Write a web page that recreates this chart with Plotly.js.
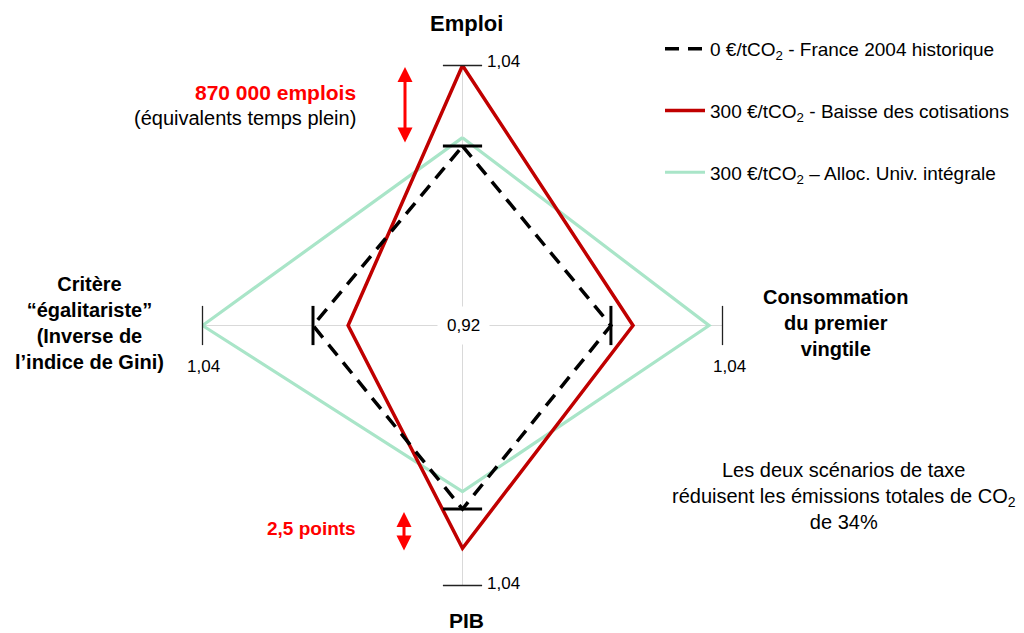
<!DOCTYPE html>
<html>
<head>
<meta charset="utf-8">
<script src="https://cdn.plot.ly/plotly-3.0.1.min.js"></script>
<style>html,body{margin:0;padding:0;background:#fff;}#chart{width:1024px;height:633px;}</style>
</head>
<body>
<div id="chart"></div>
<script>
// ---- data ----
const axesCategories = ['Emploi', 'Consommation du premier vingtile', 'PIB', 'Critère égalitariste'];
const seriesNames = [
  '0 €/tCO<sub>2</sub> - France 2004 historique',
  '300 €/tCO<sub>2</sub> - Baisse des cotisations',
  '300 €/tCO<sub>2</sub> – Alloc. Univ. intégrale'
];
const historique = [1.0028, 0.9885, 1.0047, 0.9890];
const baisseCotisations = [1.0400, 0.9987, 1.0228, 0.9728];
const allocUniv = [1.0067, 1.0338, 0.9967, 1.0400];
const radialRange = [0.92, 1.04];
const outerTickLabel = '1,04';
const centerTickLabel = '0,92';

// ---- helpers ----
const W = 1024, H = 633;
const FONT = 'Liberation Sans, Arial, Helvetica, sans-serif';
function P(x, y, extra) {
  return Object.assign({x: x / W, y: 1 - y / H, xref: 'paper', yref: 'paper',
    xanchor: 'center', yanchor: 'middle', showarrow: false}, extra);
}
function close(a) { return a.concat([a[0]]); }

const theta = close(axesCategories);
const perpSymbols = ['line-ew', 'line-ns', 'line-ew', 'line-ns'];

const traces = [
  {
    type: 'scatterpolar', mode: 'lines', name: seriesNames[2], legendgroup: 'c', legendrank: 3,
    r: close(allocUniv), theta: theta,
    line: {color: '#A9E5C8', width: 3.2}, hoverinfo: 'skip'
  },
  {
    type: 'scatterpolar', mode: 'lines', name: seriesNames[1], legendgroup: 'b', legendrank: 2,
    r: close(baisseCotisations), theta: theta,
    line: {color: '#C00000', width: 3.5}, hoverinfo: 'skip'
  },
  {
    type: 'scatterpolar', mode: 'lines', name: seriesNames[0], legendgroup: 'a', legendrank: 1,
    r: close(historique), theta: theta,
    line: {color: '#000000', width: 3.5, dash: '14px,9px'}, hoverinfo: 'skip'
  },
  // outer 1,04 tick marks on each axis
  {
    type: 'scatterpolar', mode: 'markers', showlegend: false, hoverinfo: 'skip',
    r: axesCategories.map(() => radialRange[1]), theta: axesCategories,
    marker: {symbol: perpSymbols, size: 28, color: '#000', line: {color: '#222', width: 1.3}}
  },
  // historical reference tick marks
  {
    type: 'scatterpolar', mode: 'markers', showlegend: false, hoverinfo: 'skip',
    r: historique, theta: axesCategories,
    marker: {symbol: perpSymbols, size: 28, color: '#000', line: {color: '#000', width: 3}}
  }
];

const R = 260, cx = 462.5, cy = 325.5;
const layout = {
  width: W, height: H,
  margin: {l: 0, r: 0, t: 0, b: 0},
  paper_bgcolor: '#fff',
  font: {family: FONT, color: '#000'},
  showlegend: true,
  legend: {
    x: 660 / W, y: 1 - 30 / H, xanchor: 'left', yanchor: 'top',
    font: {family: FONT, size: 19, color: '#000'},
    tracegroupgap: 34, itemwidth: 40, bgcolor: 'rgba(0,0,0,0)'
  },
  polar: {
    domain: {x: [(cx - R) / W, (cx + R) / W], y: [(H - cy - R) / H, (H - cy + R) / H]},
    bgcolor: '#fff',
    radialaxis: {range: radialRange, showgrid: false, showline: false, showticklabels: false, ticks: ''},
    angularaxis: {
      type: 'category', direction: 'clockwise', rotation: 90,
      showgrid: true, gridcolor: '#D9D9D9', gridwidth: 1,
      showline: false, showticklabels: false, ticks: ''
    }
  },
  annotations: [
    P(466, 24, {text: '<b>Emploi</b>', font: {family: FONT, size: 22}}),
    P(836, 323, {text: '<b>Consommation<br>du premier<br>vingtile</b>', font: {family: FONT, size: 20}}),
    P(89, 323, {text: '<b>Critère<br>“égalitariste”<br>(Inverse de<br>l’indice de Gini)</b>', font: {family: FONT, size: 20}}),
    P(466, 620, {text: '<b>PIB</b>', font: {family: FONT, size: 21}}),
    P(503, 61, {text: outerTickLabel, font: {family: FONT, size: 17}}),
    P(503, 583, {text: outerTickLabel, font: {family: FONT, size: 17}}),
    P(203, 366, {text: outerTickLabel, font: {family: FONT, size: 17}}),
    P(729, 366, {text: outerTickLabel, font: {family: FONT, size: 17}}),
    P(463, 326, {text: centerTickLabel, font: {family: FONT, size: 17}, bgcolor: '#fff', borderpad: 9}),
    P(358, 93, {text: '<b>870 000 emplois</b>', xanchor: 'right', font: {family: FONT, size: 21, color: '#FF0000'}}),
    P(358, 118, {text: '(équivalents temps plein)', xanchor: 'right', font: {family: FONT, size: 20}}),
    P(358, 528, {text: '<b>2,5 points</b>', xanchor: 'right', font: {family: FONT, size: 19, color: '#FF0000'}}),
    P(844, 496, {text: 'Les deux scénarios de taxe<br>réduisent les émissions totales de CO<sub>2</sub><br>de 34%', font: {family: FONT, size: 20}}),
    P(405, 67, {text: '', showarrow: true, ax: 0, ay: 77, arrowside: 'end+start', arrowhead: 2, startarrowhead: 2, arrowsize: 1, startarrowsize: 1, arrowwidth: 3, arrowcolor: '#FF0000'}),
    P(404, 512, {text: '', showarrow: true, ax: 0, ay: 40, arrowside: 'end+start', arrowhead: 2, startarrowhead: 2, arrowsize: 1, startarrowsize: 1, arrowwidth: 3, arrowcolor: '#FF0000'})
  ]
};

Plotly.newPlot('chart', traces, layout, {staticPlot: true, displayModeBar: false});
</script>
</body>
</html>
